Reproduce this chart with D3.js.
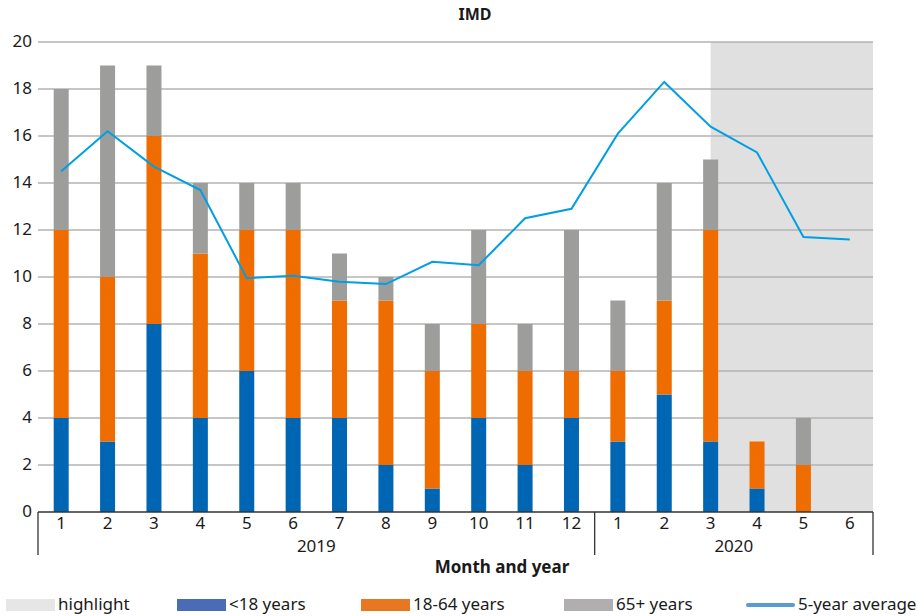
<!DOCTYPE html>
<html>
<head>
<meta charset="utf-8">
<script src="https://cdn.jsdelivr.net/npm/d3@7"></script>
<style>
  body { margin: 0; background: #fff; }
  text { font-family: "Noto Sans", "Open Sans", sans-serif; fill: #1a1a1a; }
</style>
</head>
<body>
<div id="chart"></div>
<script>
const width = 918
const height = 616
const margin = { top: 42, right: 45, bottom: 104, left: 38 }

const months = ["1","2","3","4","5","6","7","8","9","10","11","12","1","2","3","4","5","6"]
const years = [ { label: "2019", from: 0, to: 12 }, { label: "2020", from: 12, to: 18 } ]
const under18 = [4,3,8,4,6,4,4,2,1,4,2,4, 3,5,3,1,0,0]
const adults = [8,7,8,7,6,8,5,7,5,4,4,2, 3,4,9,2,2,0]
const seniors = [6,9,3,3,2,2,2,1,2,4,2,6, 3,5,3,0,2,0]
const avg5 = [14.5,16.2,14.7,13.7,9.95,10.05,9.8,9.7,10.65,10.5,12.5,12.9, 16.1,18.3,16.4,15.3,11.7,11.6]
const yTicks = [0,2,4,6,8,10,12,14,16,18,20]
const highlightFrom = 14 // centre of 2020 month 3 to the end

const svg = d3.select("#chart").append("svg").attr("width", width).attr("height", height)
const iW = width - margin.left - margin.right
const iH = height - margin.top - margin.bottom

const x = d3.scaleBand().domain(d3.range(months.length)).range([margin.left, margin.left + iW]).padding(0)
const y = d3.scaleLinear().domain([0, 20]).range([margin.top + iH, margin.top])
const cx = i => x(i) + x.bandwidth() / 2
const barW = 15

// highlight band
svg.append("rect")
    .attr("x", cx(highlightFrom))
    .attr("y", y(20))
    .attr("width", margin.left + iW - cx(highlightFrom))
    .attr("height", y(0) - y(20))
    .attr("fill", "#e0e0e0")

// gridlines
svg.append("g").selectAll("line").data(yTicks.filter(d => d > 0))
    .join("line")
        .attr("x1", margin.left).attr("x2", margin.left + iW)
        .attr("y1", d => y(d)).attr("y2", d => y(d))
        .attr("stroke", "#b3b3b3").attr("stroke-width", 1.3)

// y tick labels
svg.append("g").selectAll("text").data(yTicks)
    .join("text")
        .attr("x", 32).attr("y", d => y(d))
        .attr("text-anchor", "end").attr("dominant-baseline", "middle")
        .attr("font-size", 17)
        .text(d => d)

// stacked bars
const series = [
    { key: "<18 years", values: under18, color: "#0066b3" },
    { key: "18-64 years", values: adults, color: "#ef6c00" },
    { key: "65+ years", values: seniors, color: "#9d9d9c" }
]
const stack = d3.stack().keys([0, 1, 2]).value((d, k) => series[k].values[d])
const stacked = stack(d3.range(months.length))
svg.append("g").selectAll("g").data(stacked)
    .join("g")
        .attr("fill", d => series[d.key].color)
    .selectAll("rect").data(d => d.map((p, i) => ({ p, i })))
    .join("rect")
        .attr("x", d => cx(d.i) - barW / 2)
        .attr("width", barW)
        .attr("y", d => y(d.p[1]))
        .attr("height", d => y(d.p[0]) - y(d.p[1]))

// 5-year average
const line = d3.line().x((d, i) => cx(i)).y(d => y(d))
svg.append("path").datum(avg5)
    .attr("d", line)
    .attr("fill", "none")
    .attr("stroke", "#009fe3")
    .attr("stroke-width", 2)

// x axis
const axisY = y(0)
const ax = svg.append("g").attr("stroke", "#333").attr("stroke-width", 1.3)
ax.append("line").attr("x1", margin.left).attr("x2", margin.left + iW).attr("y1", axisY).attr("y2", axisY)
const bounds = [0, 12, 18]
ax.selectAll("line.sep").data(bounds)
    .join("line").attr("class", "sep")
        .attr("x1", d => d < months.length ? x(d) : margin.left + iW)
        .attr("x2", d => d < months.length ? x(d) : margin.left + iW)
        .attr("y1", axisY).attr("y2", axisY + 43)

svg.append("g").selectAll("text").data(months)
    .join("text")
        .attr("x", (d, i) => cx(i)).attr("y", axisY + 12)
        .attr("text-anchor", "middle").attr("dominant-baseline", "middle")
        .attr("font-size", 17)
        .text(d => d)

svg.append("g").selectAll("text").data(years)
    .join("text")
        .attr("x", d => (x(d.from) + (d.to < months.length ? x(d.to) : margin.left + iW)) / 2)
        .attr("y", axisY + 35)
        .attr("text-anchor", "middle").attr("dominant-baseline", "middle")
        .attr("font-size", 17)
        .text(d => d.label)

svg.append("text")
    .attr("x", 502).attr("y", 568)
    .attr("text-anchor", "middle").attr("dominant-baseline", "middle")
    .attr("font-size", 17).attr("font-weight", "bold")
    .text("Month and year")

svg.append("text")
    .attr("x", 475).attr("y", 16)
    .attr("text-anchor", "middle").attr("dominant-baseline", "middle")
    .attr("font-size", 16).attr("font-weight", "bold")
    .text("IMD")

// legend
const legend = [
    { label: "highlight", color: "#e6e6e6", x: 6, type: "rect" },
    { label: "<18 years", color: "#4a6cb6", x: 177, type: "rect" },
    { label: "18-64 years", color: "#e87722", x: 361, type: "rect" },
    { label: "65+ years", color: "#b0aeae", x: 564, type: "rect" },
    { label: "5-year average", color: "#5b9bd5", x: 746, type: "line" }
]
const lg = svg.append("g").selectAll("g").data(legend)
    .join("g").attr("transform", d => `translate(${d.x},605)`)
lg.append("rect")
    .attr("x", 0).attr("y", d => d.type === "line" ? -2 : -6)
    .attr("width", 49).attr("height", d => d.type === "line" ? 4 : 12)
    .attr("rx", d => d.type === "line" ? 2 : 0)
    .attr("fill", d => d.color)
lg.append("text")
    .attr("x", 52).attr("y", 0)
    .attr("dominant-baseline", "middle")
    .attr("font-size", 17)
    .text(d => d.label)
</script>
</body>
</html>
